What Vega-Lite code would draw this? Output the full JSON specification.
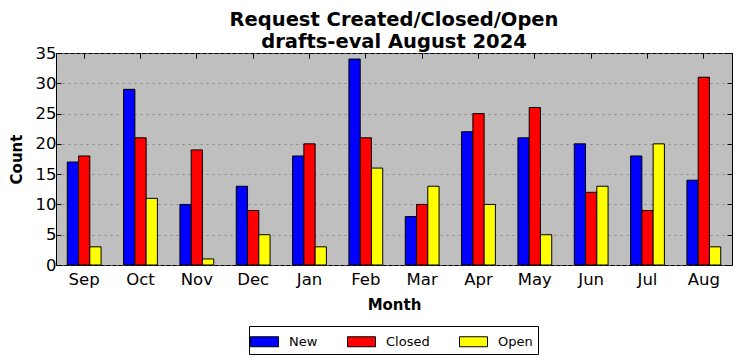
{
  "$schema": "https://vega.github.io/schema/vega-lite/v6.json",
  "width": 676,
  "height": 212,
  "autosize": {"type": "none"},
  "padding": {"left": 56, "top": 53, "right": 10, "bottom": 96},
  "background": "white",
  "title": {
    "text": ["Request Created/Closed/Open", "drafts-eval August 2024"],
    "font": "DejaVu Sans",
    "fontSize": 19.5,
    "fontWeight": "bold",
    "color": "black",
    "lineHeight": 22,
    "offset": -7,
    "anchor": "middle"
  },
  "config": {
    "view": {"fill": "#bfbfbf", "stroke": "black", "strokeWidth": 1},
    "font": "DejaVu Sans",
    "axis": {
      "labelFont": "DejaVu Sans",
      "titleFont": "DejaVu Sans",
      "labelColor": "black",
      "titleColor": "black",
      "domain": false,
      "tickColor": "black"
    }
  },
  "data": {
    "values": [
      {"month": "Sep", "series": "New", "count": 17},
      {"month": "Sep", "series": "Closed", "count": 18},
      {"month": "Sep", "series": "Open", "count": 3},
      {"month": "Oct", "series": "New", "count": 29},
      {"month": "Oct", "series": "Closed", "count": 21},
      {"month": "Oct", "series": "Open", "count": 11},
      {"month": "Nov", "series": "New", "count": 10},
      {"month": "Nov", "series": "Closed", "count": 19},
      {"month": "Nov", "series": "Open", "count": 1},
      {"month": "Dec", "series": "New", "count": 13},
      {"month": "Dec", "series": "Closed", "count": 9},
      {"month": "Dec", "series": "Open", "count": 5},
      {"month": "Jan", "series": "New", "count": 18},
      {"month": "Jan", "series": "Closed", "count": 20},
      {"month": "Jan", "series": "Open", "count": 3},
      {"month": "Feb", "series": "New", "count": 34},
      {"month": "Feb", "series": "Closed", "count": 21},
      {"month": "Feb", "series": "Open", "count": 16},
      {"month": "Mar", "series": "New", "count": 8},
      {"month": "Mar", "series": "Closed", "count": 10},
      {"month": "Mar", "series": "Open", "count": 13},
      {"month": "Apr", "series": "New", "count": 22},
      {"month": "Apr", "series": "Closed", "count": 25},
      {"month": "Apr", "series": "Open", "count": 10},
      {"month": "May", "series": "New", "count": 21},
      {"month": "May", "series": "Closed", "count": 26},
      {"month": "May", "series": "Open", "count": 5},
      {"month": "Jun", "series": "New", "count": 20},
      {"month": "Jun", "series": "Closed", "count": 12},
      {"month": "Jun", "series": "Open", "count": 13},
      {"month": "Jul", "series": "New", "count": 18},
      {"month": "Jul", "series": "Closed", "count": 9},
      {"month": "Jul", "series": "Open", "count": 20},
      {"month": "Aug", "series": "New", "count": 14},
      {"month": "Aug", "series": "Closed", "count": 31},
      {"month": "Aug", "series": "Open", "count": 3}
    ]
  },
  "layer": [
    {
      "mark": {"type": "bar", "stroke": "black", "strokeWidth": 1},
      "encoding": {
        "x": {
          "field": "month",
          "type": "nominal",
          "sort": ["Sep", "Oct", "Nov", "Dec", "Jan", "Feb", "Mar", "Apr", "May", "Jun", "Jul", "Aug"],
          "scale": {"paddingInner": 0.4, "paddingOuter": 0.2},
          "axis": {
            "orient": "bottom",
            "title": "Month",
            "titleFontSize": 15,
            "titleFontWeight": "bold",
            "titlePadding": 10,
            "labelFontSize": 16.5,
            "labelAngle": 0,
            "labelPadding": 11,
            "tickSize": -5,
            "grid": false
          }
        },
        "xOffset": {"field": "series", "type": "nominal", "sort": ["New", "Closed", "Open"]},
        "y": {
          "field": "count",
          "type": "quantitative",
          "scale": {"domain": [0, 35], "nice": false},
          "axis": {
            "title": "Count",
            "titleFontSize": 15,
            "titleFontWeight": "bold",
            "titlePadding": 11,
            "labelFontSize": 16.5,
            "labelPadding": 5,
            "values": [0, 5, 10, 15, 20, 25, 30, 35],
            "tickSize": -5,
            "grid": true,
            "gridColor": "#7a7a7a",
            "gridDash": [2, 4],
            "gridWidth": 0.8
          }
        },
        "color": {
          "field": "series",
          "type": "nominal",
          "scale": {"domain": ["New", "Closed", "Open"], "range": ["#0000ff", "#ff0000", "#ffff00"]},
          "legend": {
            "title": null,
            "orient": "none",
            "legendX": 193,
            "legendY": 273,
            "direction": "horizontal",
            "strokeColor": "black",
            "fillColor": "white",
            "padding": 5,
            "labelFont": "DejaVu Sans",
            "labelFontSize": 13,
            "labelColor": "black",
            "labelOffset": 14,
            "columnPadding": 27,
            "symbolType": "M-1.4,-0.5H1.4V0.5H-1.4Z",
            "symbolSize": 400,
            "symbolStrokeColor": "black",
            "symbolStrokeWidth": 1,
            "symbolOpacity": 1
          }
        }
      }
    },
    {
      "mark": {"type": "bar", "opacity": 0},
      "encoding": {
        "x": {
          "field": "month",
          "type": "nominal",
          "sort": ["Sep", "Oct", "Nov", "Dec", "Jan", "Feb", "Mar", "Apr", "May", "Jun", "Jul", "Aug"],
          "axis": {"orient": "top", "title": null, "labels": false, "tickSize": -5, "grid": false}
        },
        "xOffset": {"field": "series", "type": "nominal", "sort": ["New", "Closed", "Open"]},
        "y": {
          "field": "count",
          "type": "quantitative",
          "axis": {"orient": "right", "title": null, "labels": false, "values": [0, 5, 10, 15, 20, 25, 30, 35], "tickSize": -5, "grid": false}
        }
      }
    }
  ],
  "resolve": {"axis": {"x": "independent", "y": "independent"}}
}
